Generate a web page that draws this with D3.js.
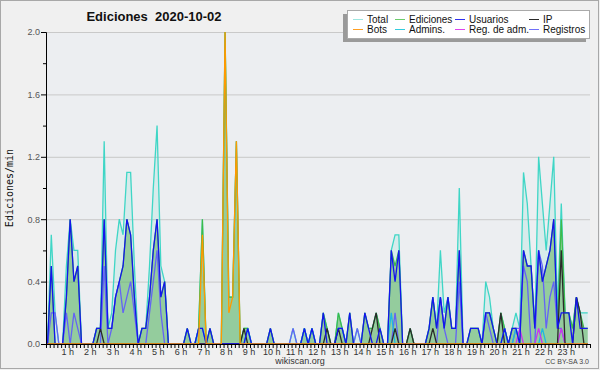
<!DOCTYPE html>
<html><head><meta charset="utf-8">
<script src="https://cdn.jsdelivr.net/npm/d3@7"></script>
<style>
html,body{margin:0;padding:0;background:#f0f0f0;}
svg{display:block;}
text{font-family:"Liberation Sans",Arial,sans-serif;}
</style>
</head><body>
<svg id="chart" width="600" height="370"></svg>
<script>
// ---------- data ----------
const chartTitle = "Ediciones  2020-10-02";
const yAxisTitle = "Ediciones/min";
const xAxisCaption = "wikiscan.org";
const licence = "CC BY-SA 3.0";
const hourLabels = ["1 h","2 h","3 h","4 h","5 h","6 h","7 h","8 h","9 h","10 h","11 h","12 h",
  "13 h","14 h","15 h","16 h","17 h","18 h","19 h","20 h","21 h","22 h","23 h"];
const yTickValues = [0, 0.4, 0.8, 1.2, 1.6, 2.0];
const yMinorValues = [0.2, 0.6, 1.0, 1.4, 1.8];
const slotsPerHour = 6;   // 10-minute intervals
const slotCount = 144;

// edits per minute, one value per 10-minute slot (00:00 .. 23:50)
const total = [
  0,.7,.2,0,0,.5,.8,.6,.6,0,
  0,0,0,.1,.1,1.3,.1,.2,.6,.8,
  .7,1.1,1.1,.5,0,.1,.1,.5,1.0,1.4,
  .5,.4,0,0,0,0,0,.1,0,0,
  .1,.8,0,.1,0,0,0,2.0,.3,.3,
  1.3,0,.1,.1,0,0,0,0,0,.1,
  0,0,0,0,0,.1,0,0,.1,0,
  .1,0,0,.2,.1,0,0,.2,.1,0,
  .2,0,.1,0,.2,.1,.1,.2,.1,0,
  0,.6,.7,.7,0,0,.1,0,0,0,
  0,.1,.3,.1,.6,.2,.3,.1,.1,1.0,
  0,0,.1,.1,.1,0,.4,.3,.1,0,
  .2,.1,0,.1,.2,.1,1.1,.9,.5,.1,
  1.2,.9,.6,.9,1.2,.2,.9,.2,.2,.1,
  .3,.2,.2,.2];
const ediciones = [
  0,.5,0,0,0,.3,.8,.4,.5,0,
  0,0,0,.1,.1,.8,.1,.1,.3,.4,
  .5,.8,.7,.3,0,.1,.1,.3,.6,.8,
  .3,.4,0,0,0,0,0,.1,0,0,
  .1,.8,0,.1,0,0,0,2.0,.3,.3,
  1.3,0,.1,.1,0,0,0,0,0,.1,
  0,0,0,0,0,0,0,0,.1,0,
  .1,0,0,.2,.1,0,0,.2,.1,0,
  .2,0,0,0,.2,.1,.1,.2,.1,0,
  0,.6,.5,.6,0,0,.1,0,0,0,
  0,.1,.3,.1,.3,.1,.3,.1,.1,.6,
  0,0,.1,.1,.1,0,.2,.2,.1,0,
  .2,.1,0,.1,.1,0,.6,.5,.5,.1,
  .6,.4,.5,.6,.8,.1,.8,.2,.2,.1,
  .3,.2,.1,.1];
const usuarios = [
  0,.5,0,0,0,.3,.8,.4,.5,0,
  0,0,0,.1,.1,.8,.1,.1,.3,.4,
  .5,.8,.7,.3,0,.1,.1,.3,.6,.8,
  .3,.4,0,0,0,0,0,.1,0,0,
  .1,.1,0,.1,0,0,0,0,0,0,
  0,0,0,.1,0,0,0,0,0,.1,
  0,0,0,0,0,0,0,0,.1,0,
  .1,0,0,.2,0,0,0,.1,.1,0,
  .2,0,0,0,.2,.1,0,0,.1,0,
  0,.6,.4,.6,0,0,0,0,0,0,
  0,.1,.3,.1,.3,.1,.3,.1,.1,.6,
  0,0,.1,.1,.1,0,.2,.2,.1,0,
  0,.1,0,.1,.1,0,.6,.5,.5,.1,
  .6,.4,.5,.6,.8,.1,.2,.2,.2,0,
  .3,.1,.1,.1];
const ip = [
  0,0,0,0,0,0,0,0,0,0,
  0,0,0,0,.1,0,0,0,0,0,
  0,0,0,0,0,0,0,0,0,0,
  0,0,0,0,0,0,0,0,0,0,
  0,0,0,0,0,0,0,0,0,0,
  0,0,.1,0,0,0,0,0,0,0,
  0,0,0,0,0,0,0,0,0,0,
  0,0,0,0,.1,0,0,.1,0,0,
  0,0,0,0,0,0,.1,.2,0,0,
  0,0,.1,0,0,0,.1,0,0,0,
  0,0,.1,0,0,0,0,0,0,0,
  0,0,0,0,0,0,0,0,0,0,
  .2,0,0,0,0,0,0,0,0,0,
  0,0,0,0,0,0,.6,0,0,0,
  .3,.2,0,0];
const bots = [
  0,0,0,0,0,0,0,0,0,0,
  0,0,0,0,0,0,0,0,0,0,
  0,0,0,0,0,0,0,0,0,0,
  0,0,0,0,0,0,0,0,0,0,
  0,.7,0,0,0,0,0,2.0,.2,.3,
  1.3,0,0,0,0,0,0,0,0,0,
  0,0,0,0,0,0,0,0,0,0,
  0,0,0,0,0,0,0,0,0,0,
  0,0,0,0,0,0,0,0,0,0,
  0,0,0,0,0,0,0,0,0,0,
  0,0,0,0,0,0,0,0,0,0,
  0,0,0,0,0,0,0,0,0,0,
  0,0,0,0,0,0,0,0,0,0,
  0,0,0,0,0,0,0,0,0,0,
  0,0,0,0];
const admins = [
  0,0,0,0,0,0,0,0,0,0,
  0,0,0,0,0,0,0,0,0,0,
  0,0,0,0,0,0,0,0,0,0,
  0,0,0,0,0,0,0,0,0,0,
  .1,.1,0,0,0,0,0,0,0,0,
  0,0,0,.1,0,0,0,0,0,0,
  0,0,0,0,0,0,0,0,.1,0,
  .1,0,0,0,0,0,0,.1,.1,0,
  0,0,0,0,0,0,0,0,0,0,
  0,.2,0,0,0,0,0,0,0,0,
  0,0,0,0,0,0,0,0,0,0,
  0,0,0,0,0,0,0,0,0,0,
  0,.1,0,0,.1,0,0,0,0,0,
  0,.1,0,0,0,0,0,0,0,0,
  0,0,0,0];
const regAdm = [
  0,0,0,0,0,0,0,0,0,0,
  0,0,0,0,0,0,0,0,0,0,
  0,0,0,0,0,0,0,0,0,0,
  0,0,0,0,0,0,0,0,0,0,
  0,0,0,0,0,0,0,0,0,0,
  0,0,0,0,0,0,0,0,0,0,
  0,0,0,0,0,0,0,0,0,0,
  0,0,0,0,0,0,0,0,0,0,
  0,0,0,0,0,0,0,0,0,0,
  0,0,0,0,0,0,0,0,0,0,
  0,0,0,0,0,0,0,0,0,0,
  0,0,0,0,0,0,0,0,0,0,
  0,0,0,0,0,.1,0,0,0,0,
  .1,0,0,0,0,0,.1,0,0,0,
  0,0,0,0];
const registros = [
  0,.2,.2,0,0,.2,0,.2,.1,0,
  0,0,0,0,0,.5,0,.1,.3,.4,
  .2,.3,.4,.2,0,0,0,.2,.4,.6,
  .2,0,0,0,0,0,0,0,0,0,
  0,0,0,0,0,0,0,0,0,0,
  0,0,0,0,0,0,0,0,0,0,
  0,0,0,0,0,.1,0,0,0,0,
  0,0,0,0,0,0,0,0,0,0,
  0,0,.1,0,0,0,0,0,0,0,
  0,0,.2,0,0,0,0,0,0,0,
  0,0,0,0,.3,.1,0,0,0,.4,
  0,0,0,0,0,0,.2,.1,0,0,
  0,0,0,0,.1,.1,.5,.4,0,0,
  .6,.5,.1,.3,.4,.1,.1,0,0,0,
  0,0,0,0];

const seriesNames = ["Total","Ediciones","Usuarios","IP","Bots","Admins.","Reg. de adm.","Registros"];

// ---------- drawing ----------
const svg = d3.select("#chart");
const W = 600, H = 370;
const plot = {left: 46, right: 590, top: 32, bottom: 344};

const x = d3.scaleLinear().domain([0, slotCount]).range([plot.left, plot.right]);
const y = d3.scaleLinear().domain([0, 2]).range([plot.bottom, plot.top]);

svg.append("rect").attr("x",0.5).attr("y",0.5).attr("width",W-2).attr("height",H-2)
  .attr("fill","#f0f0f0").attr("stroke","#a8a8a8");
svg.append("rect").attr("x",plot.left).attr("y",plot.top)
  .attr("width",plot.right-plot.left).attr("height",plot.bottom-plot.top).attr("fill","#eceef1");

// grid
svg.append("g").selectAll("line").data(yTickValues.filter(d=>d>0)).join("line")
  .attr("x1",plot.left).attr("x2",plot.right)
  .attr("y1",d=>y(d)+0.5).attr("y2",d=>y(d)+0.5)
  .attr("stroke","#c9c9c9").attr("stroke-width",1);

svg.append("defs").append("clipPath").attr("id","clip").append("rect")
  .attr("x",plot.left).attr("y",plot.top-2).attr("width",plot.right-plot.left).attr("height",plot.bottom-plot.top+2);

const g = svg.append("g").attr("clip-path","url(#clip)");
const px = (d,i) => x(i + 0.4);
const area = d3.area().x(px).y0(y(0)).y1(d=>y(d));
const line = d3.line().x(px).y(d=>y(d));

g.append("path").datum(total).attr("d",area).attr("fill","rgba(63,214,198,0.12)");
g.append("path").datum(total).attr("d",line).attr("fill","none").attr("stroke","#3fd6c6").attr("stroke-width",1.3);
g.append("path").datum(ediciones).attr("d",area).attr("fill","rgba(92,178,92,0.55)");
g.append("path").datum(ediciones).attr("d",line).attr("fill","none").attr("stroke","#3dbb4a").attr("stroke-width",1.2);

const lineSeries = [
  {data: registros, color: "#6464f4"},
  {data: admins, color: "#1fb8e0"},
  {data: regAdm, color: "#cc33ee"},
  {data: ip, color: "#2a2a2a"},
  {data: usuarios, color: "#1414ee"},
  {data: bots, color: "#ff9900"}
];
lineSeries.forEach(s => {
  g.append("path").datum(s.data).attr("d",line).attr("fill","none")
    .attr("stroke",s.color).attr("stroke-width",1.3);
});

// y axis
const yAxis = svg.append("g").attr("transform",`translate(${plot.left},0)`)
  .call(d3.axisLeft(y).tickValues(yTickValues).tickFormat(d3.format(".1f")).tickSize(5).tickPadding(1));
yAxis.select(".domain").attr("stroke","#000");
yAxis.selectAll(".tick line").attr("stroke","#000");
yAxis.selectAll("text").attr("fill","#555").style("font-size","9px").style("font-family","'Liberation Sans',Arial,sans-serif");
svg.append("g").attr("transform",`translate(${plot.left},0)`)
  .call(d3.axisLeft(y).tickValues(yMinorValues).tickFormat("").tickSize(3))
  .call(a=>a.select(".domain").remove())
  .selectAll(".tick line").attr("stroke","#000");

// x axis
const xAxis = svg.append("g").attr("transform",`translate(0,${plot.bottom})`)
  .call(d3.axisBottom(x).tickValues(d3.range(0, slotCount + 1)).tickFormat("").tickSize(4).tickSizeOuter(0));
xAxis.select(".domain").attr("stroke","#000");
xAxis.selectAll(".tick line").attr("stroke","#000");

svg.append("g").selectAll("text").data(hourLabels).join("text")
  .attr("x",(d,i)=>x((i+1)*slotsPerHour)-1).attr("y",plot.bottom+11)
  .attr("text-anchor","middle").attr("fill","#333").style("font-size","9px").text(d=>d);

// texts
svg.append("text").attr("x",154).attr("y",21).attr("text-anchor","middle")
  .style("font-size","13px").style("font-weight","bold").style("white-space","pre").attr("fill","#111").text(chartTitle);
svg.append("text").attr("transform","translate(13,188) rotate(-90)").attr("text-anchor","middle")
  .style("font-family","'DejaVu Sans Mono',monospace").style("font-size","10px").attr("fill","#111").text(yAxisTitle);
svg.append("text").attr("x",300).attr("y",364).attr("text-anchor","middle")
  .style("font-size","9px").attr("fill","#333").text(xAxisCaption);
svg.append("text").attr("x",589).attr("y",364).attr("text-anchor","end")
  .style("font-size","7px").attr("fill","#444").text(licence);

// legend
const legendColors = ["#9de6e0","#6ccc6c","#3030f0","#2a2a2a","#ff9f22","#33ccdd","#dd44ee","#7070f8"];
const lg = svg.append("g");
lg.append("rect").attr("x",343).attr("y",14).attr("width",243).attr("height",28).attr("fill","#9a9a9a");
lg.append("rect").attr("x",347.5).attr("y",10.5).attr("width",242).attr("height",28)
  .attr("fill","#fff").attr("stroke","#aaa");
const colX = [353, 395, 455, 529];
seriesNames.forEach((name,i) => {
  const col = i % 4, row = Math.floor(i / 4);
  const ly = 19 + row * 10;
  lg.append("line").attr("x1",colX[col]).attr("x2",colX[col]+10).attr("y1",ly+0.5).attr("y2",ly+0.5)
    .attr("stroke",legendColors[i]).attr("stroke-width",1);
  lg.append("text").attr("x",colX[col]+14).attr("y",ly+4).style("font-size","10px").attr("fill","#111").text(name);
});
</script>
</body></html>
